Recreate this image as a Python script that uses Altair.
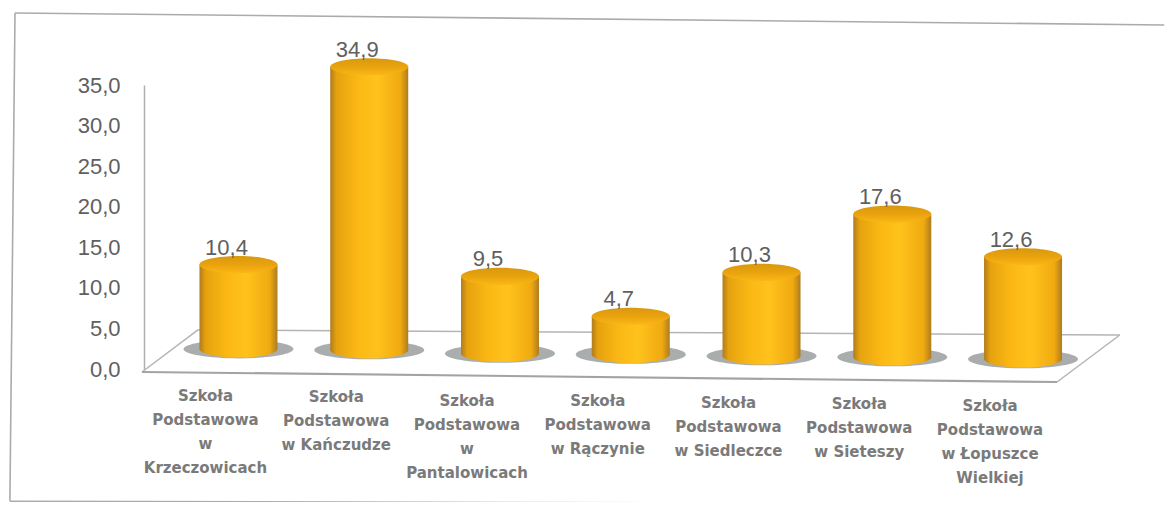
import altair as alt
import pandas as pd

names = ["Szkoła\nPodstawowa\nw\nKrzeczowicach", "Szkoła\nPodstawowa\nw Kańczudze",
         "Szkoła\nPodstawowa\nw\nPantalowicach", "Szkoła\nPodstawowa\nw Rączynie",
         "Szkoła\nPodstawowa\nw Siedleczce", "Szkoła\nPodstawowa\nw Sieteszy",
         "Szkoła\nPodstawowa\nw Łopuszce\nWielkiej"]
values = [10.4, 34.9, 9.5, 4.7, 10.3, 17.6, 12.6]
slots = [0, 1, 2, 3, 4, 5, 6]
# the floor is tilted in the picture, so each cylinder stands a little lower than the last
floor_lift = [2.46, 2.34, 1.91, 1.80, 1.60, 1.48, 1.23]
y_ticks = [0, 5, 10, 15, 20, 25, 30, 35]

floor_x = [-0.738, -0.31, 6.74, 6.26]
floor_y = [-0.37, 4.81, 4.19, -1.6]
frame_x = [7.08, -1.709, -1.748, 3.5]
frame_y = [42.4, 43.87, -16.3, -16.5]

df = pd.DataFrame({"name": names, "value": values, "i": slots, "base": floor_lift})
df["top"] = df["base"] + df["value"]
df["label"] = [f"{v:.1f}".replace(".", ",") for v in values]

xs = alt.Scale(domain=[-0.7225, 6.925], nice=False, zero=False, padding=0)
ys = alt.Scale(domain=[0, 35], nice=False, zero=False)
X = alt.X("i:Q", scale=xs, axis=None)
y_axis = alt.Axis(
    values=y_ticks, grid=False, ticks=False, domain=True, domainColor="#B0B0B0",
    domainWidth=1.5, labelFontSize=22, labelColor="#606060", labelPadding=24,
    labelFont="Liberation Sans",
    labelExpr="replace(format(datum.value,'.1f'),'.',',')")

def Y(field):
    return alt.Y(field, scale=ys, title=None, axis=y_axis)

ELL = "M-1 0A1 .22 0 1 0 1 0A1 .22 0 1 0 -1 0Z"
SHADOW = "M-1 0A1 .17 0 1 0 1 0A1 .17 0 1 0 -1 0Z"

side = alt.Gradient(gradient="linear", x1=0, x2=1, y1=0, y2=0, stops=[
    alt.GradientStop(color="#B07C1C", offset=0),
    alt.GradientStop(color="#E6A20E", offset=0.08),
    alt.GradientStop(color="#FBB814", offset=0.35),
    alt.GradientStop(color="#FFC21C", offset=0.6),
    alt.GradientStop(color="#F0AA10", offset=0.9),
    alt.GradientStop(color="#AD7C20", offset=1)])
cap = alt.Gradient(gradient="linear", x1=0, x2=0, y1=0, y2=1, stops=[
    alt.GradientStop(color="#D9980E", offset=0),
    alt.GradientStop(color="#EBA40E", offset=0.55),
    alt.GradientStop(color="#FBB816", offset=1)])

base = alt.Chart(df)

def seg(xv, yv, color, w):
    d = pd.DataFrame({"x": xv[:-1], "x2": xv[1:], "y": yv[:-1], "y2": yv[1:]})
    return alt.Chart(d).mark_rule(color=color, strokeWidth=w).encode(
        x=alt.X("x:Q", scale=xs, axis=None), x2="x2:Q", y=Y("y:Q"), y2="y2:Q")

frame = seg(frame_x, frame_y, "#ABABAB", 1.6)
floor_back = seg(floor_x[:3], floor_y[:3], "#B4B4B4", 1.5)
floor_right = seg(floor_x[2:], floor_y[2:], "#B4B4B4", 1.5)
floor_front = seg([floor_x[3], floor_x[0]], [floor_y[3], floor_y[0]], "#A3A3A3", 2.2)

shadow = base.mark_point(shape=SHADOW, filled=True, color="#868A8C", opacity=0.7, size=12100, yOffset=0).encode(
    x=X, y=Y("base:Q"))
bottom = base.mark_point(shape=ELL, filled=True, fill=side, opacity=1, size=6084, strokeWidth=0).encode(
    x=X, y=Y("base:Q"))
body = base.mark_bar(size=78, fill=side, strokeWidth=0).encode(
    x=X, y=Y("top:Q"), y2="base:Q")
top = base.mark_point(shape=ELL, filled=True, fill=cap, opacity=1, size=6084, strokeWidth=0).encode(
    x=X, y=Y("top:Q"))
vals = base.mark_text(fontSize=22, color="#606060", font="Liberation Sans", dx=-12, dy=-17).encode(
    x=X, y=Y("top:Q"), text="label:N")
cats = base.mark_text(fontSize=15, color="#7A7A7A", font="DejaVu Sans", fontWeight="bold",
                      lineBreak="\n", lineHeight=24, baseline="top", dx=-33, dy=40).encode(
    x=X, y=Y("base:Q"), text="name:N")

chart = alt.layer(frame, floor_back, floor_right, floor_front, shadow, bottom, body, top, vals, cats).properties(
    width=1000, height=284,
    padding={"left": 136, "top": 77, "right": 21, "bottom": 133},
    autosize=alt.AutoSizeParams(type="none"),
    background="#FFFFFF",
).configure_view(stroke=None)

chart.save("out.html", embed_options={"renderer": "svg", "actions": False})
